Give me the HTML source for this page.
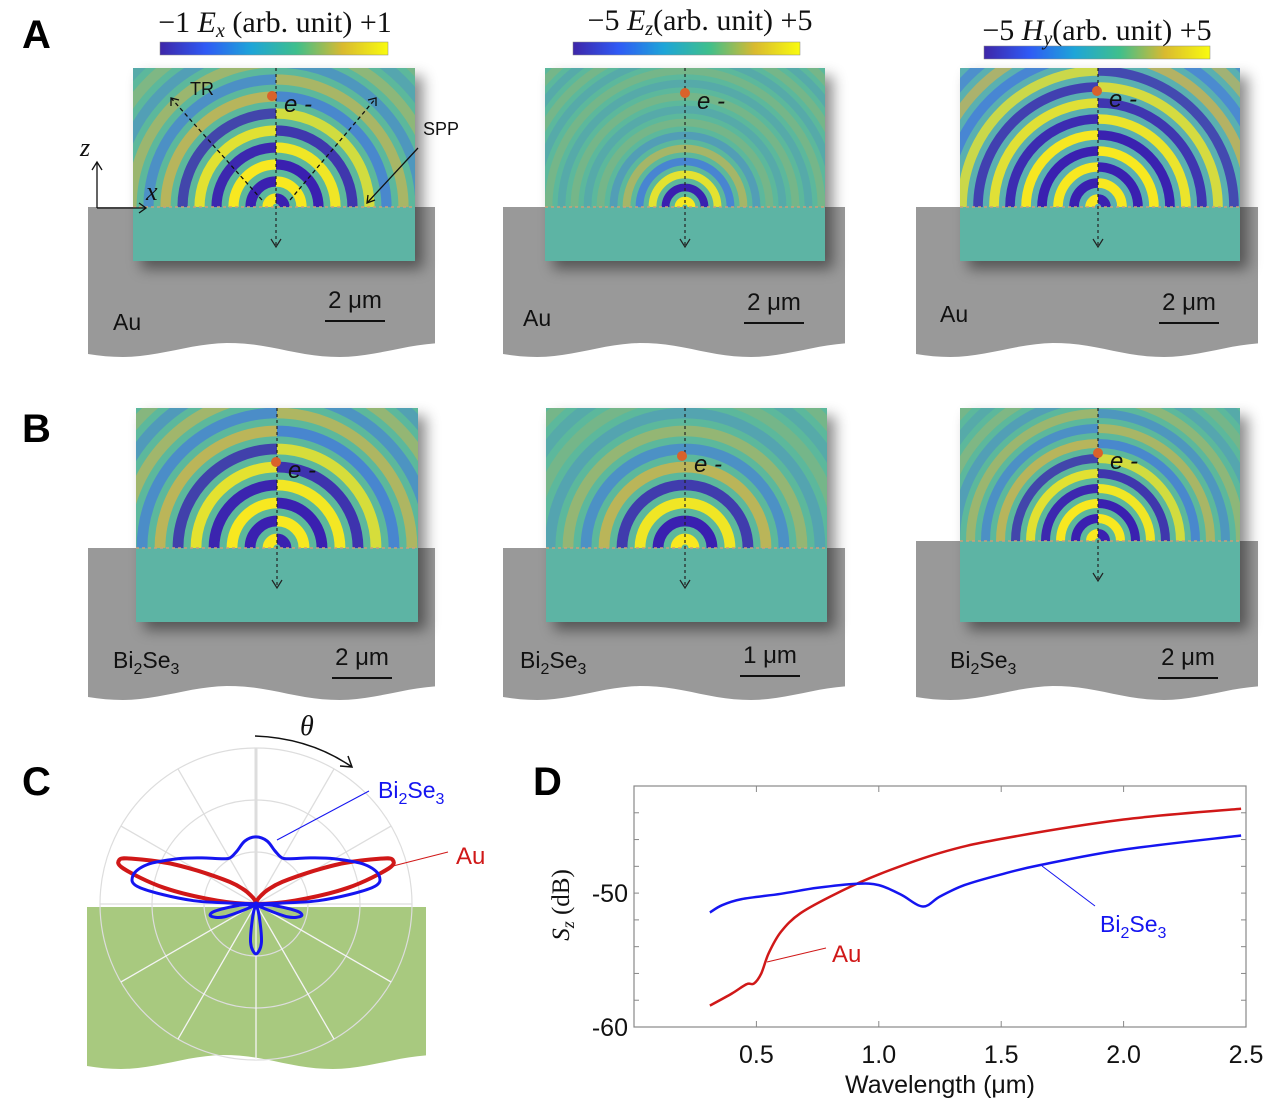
<!DOCTYPE html>
<html><head><meta charset="utf-8">
<style>
html,body{margin:0;padding:0;background:#fff;}
svg{display:block;}
.lab{font-family:"Liberation Sans",sans-serif;}
.ser{font-family:"Liberation Serif",serif;}
</style></head>
<body>
<svg id="fig" width="1280" height="1107" viewBox="0 0 1280 1107" xmlns="http://www.w3.org/2000/svg">
<defs>
<linearGradient id="parula" x1="0" x2="1" y1="0" y2="0">
<stop offset="0" stop-color="#3e26a8"/><stop offset="0.2" stop-color="#2f5af5"/><stop offset="0.4" stop-color="#1ea5d8"/>
<stop offset="0.6" stop-color="#3fbf8c"/><stop offset="0.8" stop-color="#d9ba30"/><stop offset="1" stop-color="#f9fb0e"/>
</linearGradient>
<filter id="sh" x="-20%" y="-20%" width="150%" height="150%"><feDropShadow dx="8" dy="8" stdDeviation="7" flood-color="#000" flood-opacity="0.45"/></filter>
</defs>
<g id="panels"></g>
<g id="polar"></g>
<g id="chartD"></g>
</svg>
<script>
// ===== Chart D data =====
const auWavelength = [0.31,0.40,0.46,0.49,0.52,0.55,0.60,0.68,0.83,1.0,1.25,1.5,2.0,2.48];
const auSz = [-58.4,-57.5,-56.8,-56.75,-56.0,-54.5,-52.9,-51.5,-50.0,-48.6,-47.0,-45.95,-44.5,-43.7];
const biWavelength = [0.31,0.36,0.44,0.60,0.75,0.91,1.0,1.09,1.18,1.25,1.35,1.5,1.66,2.0,2.48];
const biSz = [-51.45,-50.9,-50.45,-50.05,-49.6,-49.3,-49.4,-50.1,-51.0,-50.25,-49.4,-48.6,-47.9,-46.75,-45.7];
const xTicks = [0.5,1.0,1.5,2.0,2.5];
const xTickLabels = ["0.5","1.0","1.5","2.0","2.5"];
const yTicks = [-50,-60];
const yTickLabels = ["-50","-60"];
// ===== Chart C data (theta in degrees from surface normal, r normalised) =====
const auTheta = [0,10,20,30,40,50,60,65,70,72,75,80,85,90];
const auR = [0,0.01,0.03,0.06,0.12,0.22,0.42,0.62,0.85,0.92,0.88,0.6,0.25,0];
const biTheta = [0,10,20,30,40,50,60,70,77,82,87,90,95,100,105,112,120,130,150,165,172,180];
const biR = [0.43,0.41,0.36,0.34,0.38,0.46,0.58,0.74,0.81,0.75,0.4,0,0.12,0.27,0.3,0.22,0.05,0,0,0.08,0.25,0.32];

const NS="http://www.w3.org/2000/svg";
function mk(parent,tag,attrs,text){const e=document.createElementNS(NS,tag);for(const k in attrs)e.setAttribute(k,attrs[k]);if(text!==undefined)e.textContent=text;parent.appendChild(e);return e;}
function smooth(pts,closed){
  const n=pts.length;let d='M'+pts[0][0].toFixed(1)+','+pts[0][1].toFixed(1);
  const P=i=>closed?pts[(i+n)%n]:pts[Math.max(0,Math.min(n-1,i))];
  const last=closed?n:n-1;
  for(let i=0;i<last;i++){
    const p0=P(i-1),p1=P(i),p2=P(i+1),p3=P(i+2);
    const c1=[p1[0]+(p2[0]-p0[0])/6,p1[1]+(p2[1]-p0[1])/6];
    const c2=[p2[0]-(p3[0]-p1[0])/6,p2[1]-(p3[1]-p1[1])/6];
    d+=' C'+c1[0].toFixed(1)+','+c1[1].toFixed(1)+' '+c2[0].toFixed(1)+','+c2[1].toFixed(1)+' '+p2[0].toFixed(1)+','+p2[1].toFixed(1);
  }
  return d+(closed?' Z':'');
}

// ===== Panels A & B =====
const P=document.getElementById('panels');
function wave(x0,x1,yb){let d='';const n=40;for(let i=0;i<=n;i++){const x=x1-(x1-x0)*i/n;const y=yb+7*Math.sin((x-x0)/(x1-x0)*Math.PI*3.2+0.6);d+=' L'+x.toFixed(1)+','+y.toFixed(1);}return d;}
let clipId=0;
function field(cfg){
  const g=mk(P,'g',{});
  
  
  const sub=mk(g,'path',{d:'M'+cfg.gx0+','+cfg.iy+' L'+cfg.gx1+','+cfg.iy+' L'+cfg.gx1+','+(cfg.gb-8)+wave(cfg.gx0,cfg.gx1,cfg.gb)+' Z',fill:'#999'});
  
  
  const {x,y,w,h,iy,cx,p}=cfg;
  mk(g,'rect',{x:x,y:y,width:w,height:h,fill:'#5db4a4',filter:'url(#sh)'});
  mk(g,'rect',{x:x,y:y,width:w,height:iy-y,fill:cfg.bg||'#5cb89c'});
  const halves=cfg.anti?[[x,cx-x,1],[cx,x+w-cx,-1]]:[[x,w,1]];
  halves.forEach(([hx,hw,s])=>{
    const hid='c'+(clipId++);
    const hc=mk(g,'clipPath',{id:hid});mk(hc,'rect',{x:hx,y:y,width:hw,height:iy-y});
    const rg=mk(g,'g',{'clip-path':'url(#'+hid+')'});
    for(let k=0;k<30;k++){
      const r=(k+0.5)*p/2;if(r>420)break;
      const sign=(k%2===0?1:-1)*s;
      const a=Math.max(0.18,Math.min(1,1.3-r/(cfg.decay||200)));
      const col=sign>0?(a>0.7?'#f8e820':'#e8b43a'):(a>0.7?'#3a20b0':'#3f6fe8');
      mk(rg,'circle',{cx:cx,cy:iy,r:r,fill:'none',stroke:col,'stroke-width':p*0.3,'stroke-opacity':a});
    }
  });
  mk(g,'line',{x1:x,y1:iy,x2:x+w,y2:iy,stroke:'#c9a07a','stroke-width':1.5,'stroke-dasharray':'3,3'});
  mk(g,'line',{x1:cx,y1:y,x2:cx,y2:iy+40,stroke:'#222','stroke-width':1.2,'stroke-dasharray':'3,3'});
  mk(g,'path',{d:'M'+(cx-5)+','+(iy+32)+' L'+cx+','+(iy+40)+' L'+(cx+5)+','+(iy+32),fill:'none',stroke:'#222','stroke-width':1.2});
  const dot=mk(g,'circle',{cx:cfg.dx,cy:cfg.dy,r:5,fill:'#d9622b'});
  
  
  mk(g,'text',{x:cfg.dx+12,y:cfg.dy+16,'font-size':24,'font-style':'italic',class:'lab',fill:'#111'},'e -');
  const ml=mk(g,'text',{x:cfg.mx,y:cfg.my,'font-size':23,class:'lab',fill:'#111'});
  if(cfg.bi){ml.innerHTML='Bi<tspan font-size="16" dy="6">2</tspan><tspan dy="-6">Se</tspan><tspan font-size="16" dy="6">3</tspan>';}else ml.textContent='Au';
  
  
  const sb=mk(g,'text',{x:cfg.sx,y:cfg.sy,'font-size':24,class:'lab',fill:'#111','text-anchor':'middle'},cfg.scale);
  
  
  mk(g,'line',{x1:cfg.sx-30,y1:cfg.sy+13,x2:cfg.sx+30,y2:cfg.sy+13,stroke:'#111','stroke-width':2});
  return g;
}
field({name:'ex-au-map',x:133,y:68,w:282,h:193,iy:207,cx:276,p:34,anti:true,decay:170,gx0:88,gx1:435,gb:350,dx:272,dy:96,mx:113,my:330,sx:355,sy:308,scale:'2 μm'});
field({name:'ez-au-map',x:545,y:68,w:280,h:193,iy:207,cx:685,p:26,anti:false,decay:75,gx0:503,gx1:845,gb:350,dx:685,dy:93,mx:523,my:326,sx:774,sy:310,scale:'2 μm'});
field({name:'hy-au-map',x:960,y:68,w:280,h:193,iy:207,cx:1098,p:32,anti:true,decay:230,bg:'#5ab0b0',gx0:916,gx1:1258,gb:350,dx:1097,dy:91,mx:940,my:322,sx:1189,sy:310,scale:'2 μm'});
field({name:'ex-bi2se3-map',x:136,y:408,w:282,h:214,iy:548,cx:277,p:36,anti:true,decay:190,gx0:88,gx1:435,gb:693,dx:276,dy:462,mx:113,my:668,sx:362,sy:665,scale:'2 μm',bi:true});
field({name:'ez-bi2se3-map',x:546,y:408,w:281,h:214,iy:548,cx:685,p:36,anti:false,decay:130,gx0:503,gx1:845,gb:693,dx:682,dy:456,mx:520,my:668,sx:770,sy:663,scale:'1 μm',bi:true});
field({name:'hy-bi2se3-map',x:960,y:408,w:280,h:214,iy:541,cx:1098,p:30,anti:true,decay:150,gx0:916,gx1:1258,gb:693,dx:1098,dy:453,mx:950,my:668,sx:1188,sy:665,scale:'2 μm',bi:true});

function cbar(x,y,w,cx,ty,html,name){
  const g=mk(P,'g',{});
  
  
  mk(g,'rect',{x:x,y:y,width:w,height:13,fill:'url(#parula)',stroke:'#888','stroke-width':0.5});
  const t=mk(g,'text',{x:cx,y:ty,'font-size':30,class:'ser','text-anchor':'middle',fill:'#111'});t.innerHTML=html;
}
cbar(160,42,228,275,32,'−1 <tspan font-style="italic">E<tspan font-size="20" dy="5">x</tspan></tspan><tspan dy="-5"> (arb. unit) +1</tspan>','colorbar-ex');
cbar(573,42,227,700,30,'−5 <tspan font-style="italic">E<tspan font-size="20" dy="5">z</tspan></tspan><tspan dy="-5">(arb. unit) +5</tspan>','colorbar-ez');
cbar(984,46,226,1097,40,'−5 <tspan font-style="italic">H<tspan font-size="20" dy="5">y</tspan></tspan><tspan dy="-5">(arb. unit) +5</tspan>','colorbar-hy');

(function(){
  const g=mk(P,'g',{fill:'none',stroke:'#111','stroke-width':1.3});
  
  
  mk(g,'line',{x1:262,y1:200,x2:171,y2:98,'stroke-dasharray':'4,3'});
  mk(g,'path',{d:'M171,106 L171,98 L179,100'});
  mk(g,'line',{x1:290,y1:200,x2:376,y2:98,'stroke-dasharray':'4,3'});
  mk(g,'path',{d:'M368,100 L376,98 L376,106'});
  mk(g,'line',{x1:418,y1:148,x2:367,y2:203});
  mk(g,'path',{d:'M368,195 L367,203 L375,200'});
  mk(g,'line',{x1:97,y1:208,x2:97,y2:162});
  mk(g,'path',{d:'M92,170 L97,162 L102,170'});
  mk(g,'line',{x1:97,y1:208,x2:146,y2:208});
  mk(g,'path',{d:'M139,203 L146,208 L139,213'});
})();
mk(P,'text',{x:190,y:95,'font-size':18,class:'lab',fill:'#111'},'TR');
mk(P,'text',{x:423,y:135,'font-size':18,class:'lab',fill:'#111'},'SPP');
mk(P,'text',{x:80,y:156,'font-size':26,class:'ser','font-style':'italic',fill:'#111'},'z');
mk(P,'text',{x:146,y:200,'font-size':26,class:'ser','font-style':'italic',fill:'#111'},'x');
[['A',22,48],['B',22,442],['C',22,795],['D',533,795]].forEach(([t,x,y])=>{
  const e=mk(P,'text',{x:x,y:y,'font-size':40,'font-weight':'bold',class:'lab',fill:'#000'},t);
  
  
});

// ===== Panel C polar =====
const C=document.getElementById('polar');
const pcx=256,pcy=904,R=156;
const green=mk(C,'path',{d:'M87,907 L426,907 L426,1062'+wave(87,426,1062)+' Z',fill:'#a8c97f'});


[52,104,156].forEach(r=>{mk(C,'circle',{cx:pcx,cy:pcy,r:r,fill:'none',stroke:'#ddd','stroke-width':1.2});});
for(let a=0;a<360;a+=30){
  const rad=a*Math.PI/180;const lower=Math.sin(rad)>0.01;
  mk(C,'line',{x1:pcx,y1:pcy,x2:pcx+R*Math.cos(rad),y2:pcy+R*Math.sin(rad),stroke:lower?'#f4f4f4':'#ddd','stroke-width':a===270?3:1.3});
}
function polarPath(th,rr){
  const pts=[];
  const push=(t,r)=>{const a=t*Math.PI/180;pts.push([pcx+r*R*Math.sin(a),pcy-r*R*Math.cos(a)]);};
  for(let i=0;i<th.length;i++)push(th[i],rr[i]);
  for(let i=th.length-2;i>0;i--)push(-th[i],rr[i]);
  return smooth(pts,true);
}
const auP=mk(C,'path',{d:polarPath(auTheta,auR),fill:'none',stroke:'#d01818','stroke-width':4,'stroke-linejoin':'round'});


const biP=mk(C,'path',{d:polarPath(biTheta,biR),fill:'none',stroke:'#1515f0','stroke-width':3,'stroke-linejoin':'round'});


mk(C,'path',{d:'M255,736 Q310,738 352,767',fill:'none',stroke:'#111','stroke-width':1.5});
mk(C,'path',{d:'M340,766 L352,767 L348,756',fill:'none',stroke:'#111','stroke-width':1.5});
mk(C,'text',{x:300,y:735,'font-size':28,class:'ser','font-style':'italic',fill:'#111'},'θ');
mk(C,'line',{x1:369,y1:791,x2:277,y2:840,stroke:'#1515f0','stroke-width':1});
const cb=mk(C,'text',{x:378,y:798,'font-size':23,class:'lab',fill:'#1515f0'});cb.innerHTML='Bi<tspan font-size="16" dy="6">2</tspan><tspan dy="-6">Se</tspan><tspan font-size="16" dy="6">3</tspan>';
mk(C,'line',{x1:448,y1:852,x2:393,y2:866,stroke:'#d01818','stroke-width':1});
mk(C,'text',{x:456,y:864,'font-size':24,class:'lab',fill:'#d01818'},'Au');

// ===== Panel D =====
const D=document.getElementById('chartD');
const X0=634,X1=1246,Y0=1027,Y1=786,ymin=-60,ymax=-42,xmax=2.5;
const sx=v=>X0+(v/xmax)*(X1-X0);
const sy=v=>Y0-(v-ymin)/(ymax-ymin)*(Y0-Y1);
mk(D,'rect',{x:X0,y:Y1,width:X1-X0,height:Y0-Y1,fill:'none',stroke:'#888','stroke-width':1.2});
xTicks.forEach((t,i)=>{
  mk(D,'line',{x1:sx(t),y1:Y0,x2:sx(t),y2:Y0-6,stroke:'#888'});
  mk(D,'line',{x1:sx(t),y1:Y1,x2:sx(t),y2:Y1+6,stroke:'#888'});
  const e=mk(D,'text',{x:sx(t),y:Y0+36,'font-size':25,class:'lab','text-anchor':'middle',fill:'#111'},xTickLabels[i]);
  
  
});
for(let v=ymin+2;v<ymax;v+=2){
  mk(D,'line',{x1:X0,y1:sy(v),x2:X0+5,y2:sy(v),stroke:'#888'});
  mk(D,'line',{x1:X1,y1:sy(v),x2:X1-5,y2:sy(v),stroke:'#888'});
}
yTicks.forEach((t,i)=>{
  const e=mk(D,'text',{x:X0-6,y:sy(t)+9,'font-size':25,class:'lab','text-anchor':'end',fill:'#111'},yTickLabels[i]);
  
  
});
function line(xs,ys,col,name){
  const pts=xs.map((x,i)=>[sx(x),sy(ys[i])]);
  const e=mk(D,'path',{d:smooth(pts,false),fill:'none',stroke:col,'stroke-width':2.5,'stroke-linejoin':'round'});
  
  
}
line(auWavelength,auSz,'#d01818','au-line');
line(biWavelength,biSz,'#1515f0','bi2se3-line');
const xl=mk(D,'text',{x:(X0+X1)/2,y:1093,'font-size':25,class:'lab','text-anchor':'middle',fill:'#111'},'Wavelength (μm)');


const yl=mk(D,'text',{x:0,y:0,'font-size':25,class:'ser','text-anchor':'middle',fill:'#111',transform:'translate(569,905) rotate(-90)'});
yl.innerHTML='<tspan font-style="italic">S<tspan font-size="18" dy="5">z</tspan></tspan><tspan dy="-5">  (dB)</tspan>';


mk(D,'line',{x1:767,y1:962,x2:826,y2:948,stroke:'#d01818','stroke-width':1});
mk(D,'text',{x:832,y:962,'font-size':24,class:'lab',fill:'#d01818'},'Au');
mk(D,'line',{x1:1042,y1:866,x2:1095,y2:906,stroke:'#1515f0','stroke-width':1});
const db=mk(D,'text',{x:1100,y:932,'font-size':23,class:'lab',fill:'#1515f0'});db.innerHTML='Bi<tspan font-size="16" dy="6">2</tspan><tspan dy="-6">Se</tspan><tspan font-size="16" dy="6">3</tspan>';
</script>
</body></html>
